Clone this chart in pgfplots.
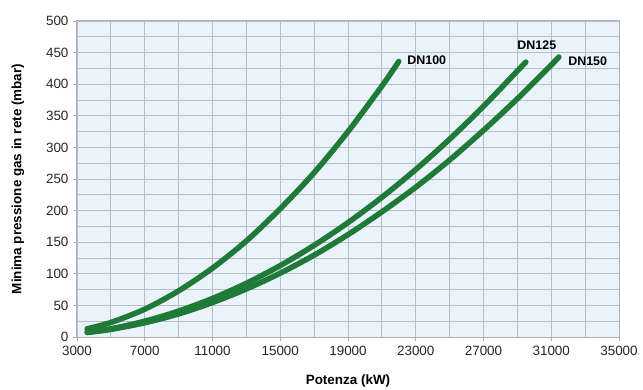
\documentclass[border=0pt]{standalone}
\usepackage{fontspec}
\setmainfont{Liberation Sans}
\usepackage{pgfplots}
\pgfplotsset{compat=1.18}
\definecolor{curve}{HTML}{1E7A36}
\definecolor{bgc}{HTML}{EAF2FB}
\definecolor{gridc}{HTML}{B9BDC5}
\begin{document}
\begin{tikzpicture}
\useasboundingbox (-77bp,-53bp) rectangle (566bp,337bp);
\begin{axis}[
  at={(0,0)}, anchor=south west,
  scale only axis, width=542bp, height=316bp,
  xmin=3000, xmax=35000, ymin=0, ymax=500,
  xtick={3000,7000,...,35000}, minor xtick={5000,9000,...,33000},
  ytick={0,50,...,500}, minor ytick={25,75,...,475},
  grid=both,
  major grid style={gridc, line width=0.9bp},
  minor grid style={gridc, line width=0.9bp},
  axis line style={gridc!120, line width=1bp},
  tick style={gridc!120, line width=0.9bp},
  major tick length=4bp, minor tick length=0pt,
  tick align=outside, xtick pos=bottom, ytick pos=left,
  axis background/.style={fill=bgc},
  scaled x ticks=false,
  /pgf/number format/assume math mode=true,
  /pgf/number format/set thousands separator={},
  ticklabel style={font=\fontsize{13.5}{16}\selectfont, text=black!85},
  xticklabel style={yshift=-2bp},
  yticklabel style={xshift=-1bp},
  xlabel={\textbf{Potenza (kW)}},
  ylabel={\textbf{Minima pressione gas in rete (mbar)}},
  label style={font=\fontsize{13.5}{15}\selectfont},
  xlabel style={yshift=-12bp},
  ylabel style={yshift=15bp},
  clip=false,
]
\addplot[curve, line width=5.5bp, line cap=round, line join=round, smooth] coordinates {
 (3600,13) (5000,23) (7000,44) (9000,73) (11000,109) (13000,152) (15000,203)
 (17000,260) (19000,325) (21000,397) (22000,436)};
\addplot[curve, line width=5.5bp, line cap=round, line join=round, smooth] coordinates {
 (3600,8) (5000,13) (7000,25) (9000,41) (11000,61) (13000,85) (15000,113)
 (17000,145) (19000,181) (21000,221) (23000,265) (25000,313) (27000,365)
 (29000,421) (29500,435)};
\addplot[curve, line width=5.5bp, line cap=round, line join=round, smooth] coordinates {
 (3600,7) (5000,12) (7000,22.5) (9000,36.5) (11000,54.5) (13000,76) (15000,101)
 (17000,129.5) (19000,162) (21000,198) (23000,237) (25000,280) (27000,327)
 (29000,377) (31000,430.5) (31450,443)};
\node[anchor=west, font=\bfseries\fontsize{12.5}{14}\selectfont] at (axis cs:22300,438) {DN100};
\node[anchor=center, font=\bfseries\fontsize{12.5}{14}\selectfont] at (axis cs:30150,461) {DN125};
\node[anchor=west, font=\bfseries\fontsize{12.5}{14}\selectfont] at (axis cs:31800,437) {DN150};
\end{axis}
\end{tikzpicture}
\end{document}
